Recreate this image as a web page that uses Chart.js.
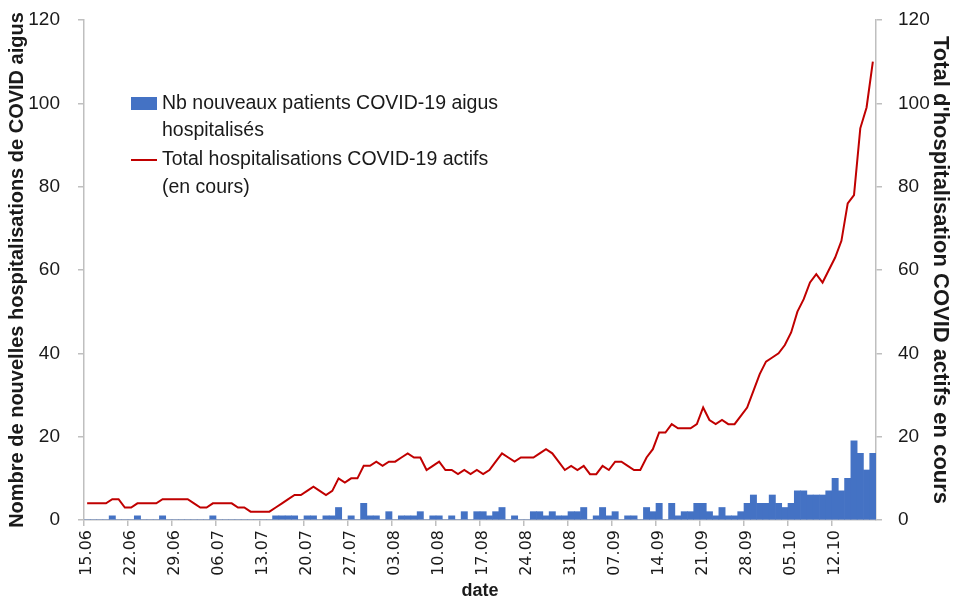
<!DOCTYPE html>
<html>
<head>
<meta charset="utf-8">
<script src="https://cdn.jsdelivr.net/npm/chart.js"></script>
<style>
    html, body { margin: 0; padding: 0; background: #ffffff; }
    #wrap { position: relative; width: 953px; height: 597px; }
</style>
</head>
<body>
<div id="wrap"><canvas id="hospChart"></canvas></div>
<script>
// first day of the series, then one category per day
const startDay = '2020-06-15';
const dayCount = 126;

// new acute COVID-19 hospitalisations per day (left axis)
const newPatients = [
    0, 0, 0, 0, 1, 0, 0,
    0, 1, 0, 0, 0, 1, 0,
    0, 0, 0, 0, 0, 0, 1,
    0, 0, 0, 0, 0, 0, 0,
    0, 0, 1, 1, 1, 1, 0,
    1, 1, 0, 1, 1, 3, 0,
    1, 0, 4, 1, 1, 0, 2,
    0, 1, 1, 1, 2, 0, 1,
    1, 0, 1, 0, 2, 0, 2,
    2, 1, 2, 3, 0, 1, 0,
    0, 2, 2, 1, 2, 1, 1,
    2, 2, 3, 0, 1, 3, 1,
    2, 0, 1, 1, 0, 3, 2,
    4, 0, 4, 1, 2, 2, 4,
    4, 2, 1, 3, 1, 1, 2,
    4, 6, 4, 4, 6, 4, 3,
    4, 7, 7, 6, 6, 6, 7,
    10, 7, 10, 19, 16, 12, 16
];

// active COVID-19 hospitalisations (right axis)
const activeTotal = [
    4, 4, 4, 4, 5, 5, 3,
    3, 4, 4, 4, 4, 5, 5,
    5, 5, 5, 4, 3, 3, 4,
    4, 4, 4, 3, 3, 2, 2,
    2, 2, 3, 4, 5, 6, 6,
    7, 8, 7, 6, 7, 10, 9,
    10, 10, 13, 13, 14, 13, 14,
    14, 15, 16, 15, 15, 12, 13,
    14, 12, 12, 11, 12, 11, 12,
    11, 12, 14, 16, 15, 14, 15,
    15, 15, 16, 17, 16, 14, 12,
    13, 12, 13, 11, 11, 13, 12,
    14, 14, 13, 12, 12, 15, 17,
    21, 21, 23, 22, 22, 22, 23,
    27, 24, 23, 24, 23, 23, 25,
    27, 31, 35, 38, 39, 40, 42,
    45, 50, 53, 57, 59, 57, 60,
    63, 67, 76, 78, 94, 99, 110
];

const barLegend = ['Nb nouveaux patients COVID-19 aigus', 'hospitalisés'];
const lineLegend = ['Total hospitalisations COVID-19 actifs', '(en cours)'];
const leftTitle = 'Nombre de nouvelles hospitalisations de COVID aigus';
const rightTitle = "Total d'hospitalisation COVID actifs en cours";
const tickEvery = 7;

const BLUE = '#4472C4';
const RED = '#C00000';
const AXIS = '#bfbfbf';
const TEXT = '#1a1a1a';

function buildDates() {
    const out = [];
    const d = new Date(startDay + 'T12:00:00');
    for (let i = 0; i < dayCount; i++) {
        const dd = String(d.getDate()).padStart(2, '0');
        const mm = String(d.getMonth() + 1).padStart(2, '0');
        out.push(dd + '.' + mm);
        d.setDate(d.getDate() + 1);
    }
    return out;
}

const dates = buildDates();

// legend sits inside the plot, upper left, like the original
const insideLegend = {
    id: 'insideLegend',
    afterDraw(chart) {
        const ctx = chart.ctx;
        const x = 131;
        ctx.save();
        ctx.font = '19.5px "Liberation Sans"';
        ctx.textBaseline = 'middle';

        ctx.fillStyle = BLUE;
        ctx.fillRect(x, 97, 26, 13);
        ctx.fillStyle = TEXT;
        ctx.fillText(barLegend[0], x + 31, 104);
        ctx.fillText(barLegend[1], x + 31, 131);

        ctx.strokeStyle = RED;
        ctx.lineWidth = 2;
        ctx.beginPath();
        ctx.moveTo(x, 160);
        ctx.lineTo(x + 26, 160);
        ctx.stroke();
        ctx.fillText(lineLegend[0], x + 31, 160);
        ctx.fillText(lineLegend[1], x + 31, 188);
        ctx.restore();
    }
};

function yAxis(position, title, width, labelPad, titleSize, titlePad) {
    return {
        position: position,
        min: 0,
        max: 120,
        ticks: {
            stepSize: 20,
            padding: labelPad,
            color: TEXT,
            font: { family: 'Liberation Sans', size: 19 }
        },
        grid: {
            drawOnChartArea: false,
            tickLength: 6,
            color: AXIS,
            lineWidth: 1.5
        },
        border: { color: AXIS, width: 1.5 },
        title: {
            display: true,
            text: title,
            color: TEXT,
            padding: titlePad,
            font: { family: 'Liberation Sans', size: titleSize, weight: 'bold' }
        },
        afterFit: function(scale) {
            scale.width = width;
            scale.paddingTop = 0;
            scale.paddingBottom = 0;
        }
    };
}

new Chart(document.getElementById('hospChart'), {
    type: 'bar',
    data: {
        labels: dates,
        datasets: [
            {
                type: 'line',
                label: lineLegend.join(' '),
                data: activeTotal,
                yAxisID: 'y1',
                borderColor: RED,
                backgroundColor: RED,
                borderWidth: 2,
                pointRadius: 0,
                tension: 0,
                order: 0
            },
            {
                type: 'bar',
                label: barLegend.join(' '),
                data: newPatients,
                yAxisID: 'y',
                backgroundColor: BLUE,
                barPercentage: 1,
                categoryPercentage: 1,
                order: 1
            }
        ]
    },
    options: {
        responsive: true,
        maintainAspectRatio: false,
        animation: false,
        layout: {
            autoPadding: false,
            padding: { top: 20, right: 0, bottom: 0, left: 0 }
        },
        scales: {
            x: {
                offset: true,
                grid: {
                    offset: true,
                    drawOnChartArea: false,
                    tickLength: 6,
                    lineWidth: 1.5,
                    color: function(c) {
                        return c.index % tickEvery === 0 ? AXIS : 'rgba(0,0,0,0)';
                    }
                },
                border: { color: AXIS, width: 1.5 },
                ticks: {
                    autoSkip: false,
                    minRotation: 90,
                    maxRotation: 90,
                    padding: 4,
                    color: TEXT,
                    font: { family: 'DejaVu Sans', size: 16 },
                    callback: function(value, index) {
                        return index % tickEvery === 0 ? dates[index] : '';
                    }
                },
                title: {
                    display: true,
                    text: 'date',
                    color: TEXT,
                    padding: { top: 0, bottom: -5 },
                    font: { family: 'Liberation Sans', size: 18, weight: 'bold' }
                },
                afterFit: function(scale) {
                    scale.height = 77;
                    scale.paddingLeft = 0;
                    scale.paddingRight = 0;
                }
            },
            y: yAxis('left', leftTitle, 84, 18, 20, { top: 5, bottom: 0 }),
            y1: yAxis('right', rightTitle, 77, 16, 22, { top: 0, bottom: 0 })
        },
        plugins: {
            legend: { display: false },
            tooltip: { enabled: false }
        }
    },
    plugins: [insideLegend]
});
</script>
</body>
</html>
